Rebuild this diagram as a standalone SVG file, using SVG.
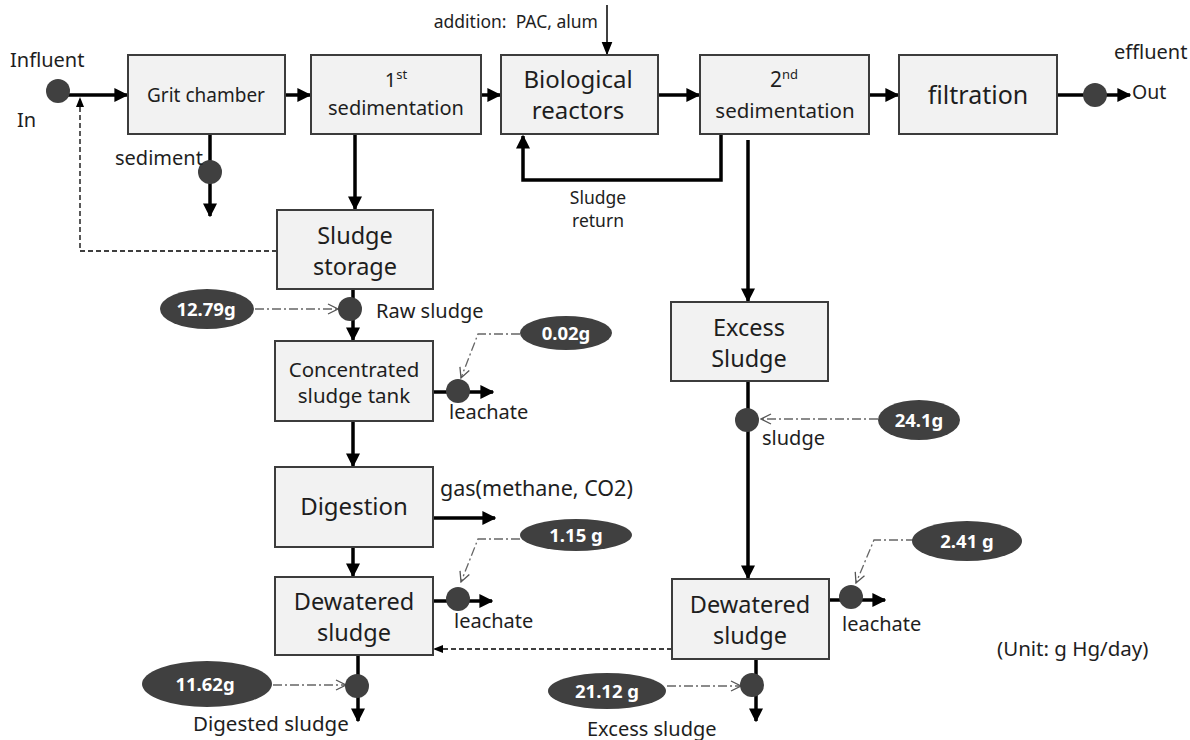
<svg xmlns="http://www.w3.org/2000/svg" width="1190" height="740" viewBox="0 0 1190 740">
  <defs>
    <marker id="ah" viewBox="0 0 10 10" refX="9" refY="5" markerWidth="4" markerHeight="4" orient="auto" markerUnits="strokeWidth">
      <path d="M0,0 L10,5 L0,10 z" fill="#000"/>
    </marker>
    <marker id="ahThin" viewBox="0 0 10 10" refX="9" refY="5" markerWidth="9" markerHeight="9" orient="auto" markerUnits="strokeWidth">
      <path d="M0,1 L10,5 L0,9 z" fill="#000"/>
    </marker>
    <marker id="ahOpen" viewBox="0 0 12 12" refX="11" refY="6" markerWidth="12" markerHeight="12" orient="auto" markerUnits="userSpaceOnUse">
      <path d="M1,1 L11,6 L1,11" fill="none" stroke="#555" stroke-width="1.3"/>
    </marker>
    <marker id="ahDash" viewBox="0 0 10 10" refX="9" refY="5" markerWidth="10" markerHeight="10" orient="auto" markerUnits="userSpaceOnUse">
      <path d="M0,1 L10,5 L0,9 z" fill="#000"/>
    </marker>
  </defs>
  <style>
    text { font-family: "Noto Sans", "Open Sans", sans-serif; fill: #1e1e1e; }
    .box { fill: #f2f2f2; stroke: #3c3c3c; stroke-width: 2; }
    .flow { fill: none; stroke: #000; stroke-width: 3.5; }
    .thin { fill: none; stroke: #000; stroke-width: 1.5; }
    .dash { fill: none; stroke: #000; stroke-width: 1.3; stroke-dasharray: 5 3; }
    .dd { fill: none; stroke: #666; stroke-width: 1.3; stroke-dasharray: 9 3 2 3; }
    .dot { fill: #404040; }
    .tag { fill: #404040; }
    .tagt { fill: #fff; font-weight: bold; font-size: 18.5px; text-anchor: middle; }
    .c { text-anchor: middle; }
    .lbl { font-size: 20px; }
  </style>

  <rect width="1190" height="740" fill="#fff"/>

  <!-- connectors -->
  <g id="connectors">
    <!-- main line -->
    <line class="flow" x1="58" y1="95" x2="127" y2="95" marker-end="url(#ah)"/>
    <line class="flow" x1="285" y1="95" x2="310" y2="95" marker-end="url(#ah)"/>
    <line class="flow" x1="481" y1="95" x2="500" y2="95" marker-end="url(#ah)"/>
    <line class="flow" x1="658" y1="95" x2="699" y2="95" marker-end="url(#ah)"/>
    <line class="flow" x1="869" y1="95" x2="898" y2="95" marker-end="url(#ah)"/>
    <line class="flow" x1="1057" y1="95" x2="1130" y2="95" marker-end="url(#ah)"/>
    <!-- chemical addition -->
    <line class="thin" x1="607" y1="5" x2="607" y2="54" marker-end="url(#ahThin)"/>
    <!-- sludge return -->
    <polyline class="flow" points="721,135 721,180 523,180 523,136" marker-end="url(#ah)"/>
    <!-- grit sediment -->
    <line class="flow" x1="210" y1="135" x2="210" y2="216" marker-end="url(#ah)"/>
    <!-- primary sludge line -->
    <line class="flow" x1="355" y1="135" x2="355" y2="209" marker-end="url(#ah)"/>
    <line class="flow" x1="353" y1="289" x2="353" y2="340" marker-end="url(#ah)"/>
    <line class="flow" x1="353" y1="421" x2="353" y2="466" marker-end="url(#ah)"/>
    <line class="flow" x1="353" y1="547" x2="353" y2="576" marker-end="url(#ah)"/>
    <line class="flow" x1="358" y1="655" x2="358" y2="721" marker-end="url(#ah)"/>
    <!-- side outlets -->
    <line class="flow" x1="433" y1="392" x2="493" y2="392" marker-end="url(#ah)"/>
    <line class="flow" x1="433" y1="518" x2="495" y2="518" marker-end="url(#ah)"/>
    <line class="flow" x1="433" y1="601" x2="492" y2="601" marker-end="url(#ah)"/>
    <line class="flow" x1="829" y1="600" x2="885" y2="600" marker-end="url(#ah)"/>
    <!-- excess sludge line -->
    <line class="flow" x1="748" y1="140" x2="748" y2="301" marker-end="url(#ah)"/>
    <line class="flow" x1="748" y1="381" x2="748" y2="578" marker-end="url(#ah)"/>
    <line class="flow" x1="756" y1="659" x2="756" y2="721" marker-end="url(#ah)"/>
    <!-- dashed recycle lines -->
    <polyline class="dash" points="277,251 80,251 80,98" marker-end="url(#ahDash)"/>
    <line class="dash" x1="672" y1="649" x2="434" y2="649" marker-end="url(#ahDash)"/>
    <!-- mercury load pointers -->
    <line class="dd" x1="255" y1="309" x2="338" y2="309" marker-end="url(#ahOpen)"/>
    <polyline class="dd" points="520,334 478,334 461,378" marker-end="url(#ahOpen)"/>
    <polyline class="dd" points="520,539 478,539 461,582" marker-end="url(#ahOpen)"/>
    <line class="dd" x1="273" y1="685" x2="346" y2="685" marker-end="url(#ahOpen)"/>
    <line class="dd" x1="878" y1="419" x2="761" y2="419" marker-end="url(#ahOpen)"/>
    <polyline class="dd" points="915,540 874,540 856,583" marker-end="url(#ahOpen)"/>
    <line class="dd" x1="667" y1="686" x2="741" y2="686" marker-end="url(#ahOpen)"/>
  </g>

  <!-- sampling points -->
  <g id="points">
    <circle class="dot" cx="58" cy="91" r="12"/>
    <circle class="dot" cx="1095" cy="95" r="12"/>
    <circle class="dot" cx="210" cy="172" r="12"/>
    <circle class="dot" cx="350" cy="309" r="12"/>
    <circle class="dot" cx="458" cy="391" r="12"/>
    <circle class="dot" cx="458" cy="599" r="12"/>
    <circle class="dot" cx="357" cy="686" r="12"/>
    <circle class="dot" cx="747" cy="420" r="12"/>
    <circle class="dot" cx="851" cy="597" r="12"/>
    <circle class="dot" cx="752" cy="685" r="12"/>
  </g>

  <!-- process units -->
  <g id="grit-chamber">
    <rect class="box" x="128" y="55" width="157" height="79"/>
    <text class="c" x="206" y="102" font-size="19">Grit chamber</text>
  </g>
  <g id="first-sedimentation">
    <rect class="box" x="311" y="55" width="170" height="79"/>
    <text class="c" x="396" y="87" font-size="20">1<tspan font-size="13" dy="-8">st</tspan></text>
    <text class="c" x="396" y="115" font-size="20">sedimentation</text>
  </g>
  <g id="biological-reactors">
    <rect class="box" x="501" y="55" width="157" height="79"/>
    <text class="c" x="578" y="88" font-size="24">Biological</text>
    <text class="c" x="578" y="119" font-size="24">reactors</text>
  </g>
  <g id="second-sedimentation">
    <rect class="box" x="700" y="55" width="169" height="79"/>
    <text class="c" x="784" y="87" font-size="21">2<tspan font-size="13" dy="-8">nd</tspan></text>
    <text class="c" x="785" y="118" font-size="20.5">sedimentation</text>
  </g>
  <g id="filtration">
    <rect class="box" x="899" y="55" width="158" height="79"/>
    <text class="c" x="978" y="104" font-size="25">filtration</text>
  </g>
  <g id="sludge-storage">
    <rect class="box" x="277" y="210" width="156" height="79"/>
    <text class="c" x="355" y="244" font-size="23.5">Sludge</text>
    <text class="c" x="355" y="275" font-size="23.5">storage</text>
  </g>
  <g id="concentrated-sludge-tank">
    <rect class="box" x="275" y="341" width="158" height="80"/>
    <text class="c" x="354" y="377" font-size="20.5">Concentrated</text>
    <text class="c" x="354" y="403" font-size="20.5">sludge tank</text>
  </g>
  <g id="digestion">
    <rect class="box" x="275" y="467" width="158" height="80"/>
    <text class="c" x="354" y="515" font-size="24">Digestion</text>
  </g>
  <g id="dewatered-sludge-digested">
    <rect class="box" x="275" y="577" width="158" height="78"/>
    <text class="c" x="354" y="610" font-size="23.5">Dewatered</text>
    <text class="c" x="354" y="641" font-size="23.5">sludge</text>
  </g>
  <g id="excess-sludge">
    <rect class="box" x="671" y="302" width="157" height="79"/>
    <text class="c" x="749" y="336" font-size="23.5">Excess</text>
    <text class="c" x="749" y="367" font-size="23.5">Sludge</text>
  </g>
  <g id="dewatered-sludge-excess">
    <rect class="box" x="672" y="579" width="157" height="80"/>
    <text class="c" x="750" y="613" font-size="23.5">Dewatered</text>
    <text class="c" x="750" y="644" font-size="23.5">sludge</text>
  </g>

  <!-- mercury loads -->
  <g id="load-raw">
    <ellipse class="tag" cx="207" cy="309" rx="47" ry="20"/>
    <text class="tagt" x="206" y="316">12.79g</text>
  </g>
  <g id="load-leachate-1">
    <ellipse class="tag" cx="566" cy="333" rx="46" ry="17"/>
    <text class="tagt" x="566" y="340">0.02g</text>
  </g>
  <g id="load-leachate-2">
    <ellipse class="tag" cx="576" cy="535" rx="56" ry="16"/>
    <text class="tagt" x="576" y="542">1.15 g</text>
  </g>
  <g id="load-digested">
    <ellipse class="tag" cx="207" cy="684" rx="65" ry="23"/>
    <text class="tagt" x="205" y="691">11.62g</text>
  </g>
  <g id="load-sludge">
    <ellipse class="tag" cx="919" cy="420" rx="41" ry="20"/>
    <text class="tagt" x="919" y="427">24.1g</text>
  </g>
  <g id="load-leachate-3">
    <ellipse class="tag" cx="967" cy="541" rx="55" ry="20"/>
    <text class="tagt" x="967" y="548">2.41 g</text>
  </g>
  <g id="load-excess">
    <ellipse class="tag" cx="607" cy="691" rx="59" ry="18"/>
    <text class="tagt" x="607" y="698">21.12 g</text>
  </g>

  <!-- labels -->
  <g id="labels">
    <text class="lbl" x="10" y="67">Influent</text>
    <text class="lbl" x="17" y="127">In</text>
    <text class="lbl" x="115" y="165">sediment</text>
    <text x="598" y="28" font-size="17.5" text-anchor="end" xml:space="preserve">addition:  PAC, alum</text>
    <text class="lbl" x="1114" y="59">effluent</text>
    <text x="1132" y="99" font-size="19.5">Out</text>
    <text class="c" x="598" y="204" font-size="17.5">Sludge</text>
    <text class="c" x="598" y="227" font-size="17.5">return</text>
    <text class="lbl" x="376" y="318">Raw sludge</text>
    <text class="lbl" x="449" y="419">leachate</text>
    <text x="440" y="496" font-size="21.5">gas(methane, CO2)</text>
    <text class="lbl" x="454" y="628">leachate</text>
    <text x="193" y="731" font-size="20.5">Digested sludge</text>
    <text class="lbl" x="762" y="445">sludge</text>
    <text class="lbl" x="842" y="631">leachate</text>
    <text x="997" y="656" font-size="20.5">(Unit: g Hg/day)</text>
    <text class="lbl" x="587" y="736">Excess sludge</text>
  </g>
</svg>
